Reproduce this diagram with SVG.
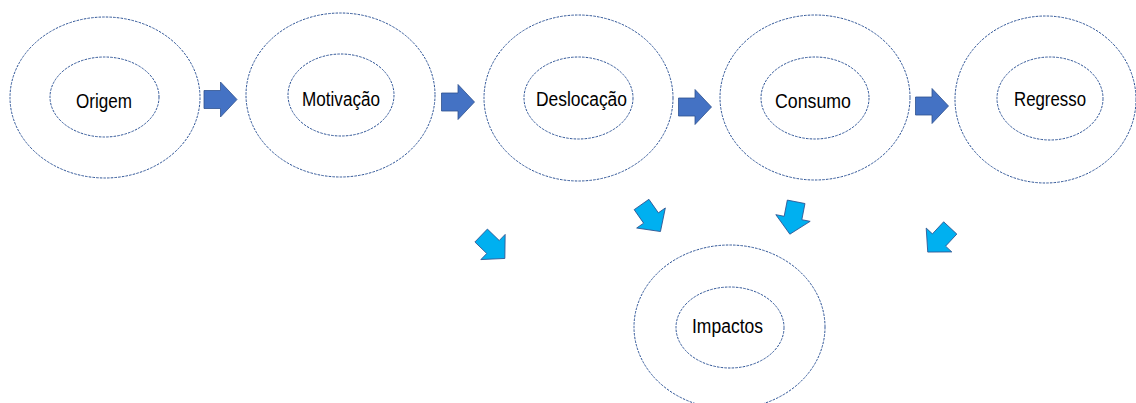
<svg xmlns="http://www.w3.org/2000/svg" width="1136" height="403" viewBox="0 0 1136 403">
<style>
.ring{fill:none;stroke:#2F5597;stroke-width:1;stroke-dasharray:2.5 1.2}
.lbl{font-family:"Liberation Sans",Arial,sans-serif;font-size:20px;fill:#000;text-anchor:middle}
.darr{fill:#4472C4;stroke:#2F528F;stroke-width:0.8}
.larr{fill:#00B0F0;stroke:#2F528F;stroke-width:0.8}
</style>
<defs>
<path id="arr" d="M-16.5,-9 L0,-9 L0,-17.5 L16.5,0 L0,17.5 L0,9 L-16.5,9 Z"/>
</defs>
<rect width="1136" height="403" fill="#fff"/>
<g id="origem">
<ellipse class="ring" cx="105" cy="97.5" rx="95" ry="80.5"/>
<ellipse class="ring" cx="104.5" cy="97" rx="54.5" ry="40"/>
<text class="lbl" x="104" y="108" textLength="56" lengthAdjust="spacingAndGlyphs">Origem</text>
</g>
<g id="motivacao">
<ellipse class="ring" cx="340.5" cy="95" rx="94.5" ry="82"/>
<ellipse class="ring" cx="341" cy="95" rx="53" ry="41"/>
<text class="lbl" x="341" y="106" textLength="78" lengthAdjust="spacingAndGlyphs">Motivação</text>
</g>
<g id="deslocacao">
<ellipse class="ring" cx="578.5" cy="98" rx="94.5" ry="83"/>
<ellipse class="ring" cx="578.5" cy="98" rx="54.5" ry="41"/>
<text class="lbl" x="581.5" y="106" textLength="91" lengthAdjust="spacingAndGlyphs">Deslocação</text>
</g>
<g id="consumo">
<ellipse class="ring" cx="815" cy="97.5" rx="95" ry="82.5"/>
<ellipse class="ring" cx="815" cy="98" rx="54" ry="41"/>
<text class="lbl" x="813" y="108" textLength="76" lengthAdjust="spacingAndGlyphs">Consumo</text>
</g>
<g id="regresso">
<ellipse class="ring" cx="1045.5" cy="99.5" rx="90.5" ry="83.5"/>
<ellipse class="ring" cx="1050" cy="98.5" rx="53" ry="41.5"/>
<text class="lbl" x="1050" y="106" textLength="72" lengthAdjust="spacingAndGlyphs">Regresso</text>
</g>
<g id="impactos">
<ellipse class="ring" cx="729.5" cy="327" rx="95.5" ry="82"/>
<ellipse class="ring" cx="730" cy="327.5" rx="54" ry="40.5"/>
<text class="lbl" x="727.5" y="333" textLength="71" lengthAdjust="spacingAndGlyphs">Impactos</text>
</g>
<g id="connectors">
<use href="#arr" class="darr" transform="translate(220.5,99.5)"/>
<use href="#arr" class="darr" transform="translate(458,102)"/>
<use href="#arr" class="darr" transform="translate(695,107)"/>
<use href="#arr" class="darr" transform="translate(932,106)"/>
<use href="#arr" class="larr" transform="translate(493,247) rotate(44)"/>
<use href="#arr" class="larr" transform="translate(651,218) rotate(55)"/>
<use href="#arr" class="larr" transform="translate(793,218) rotate(101)"/>
<use href="#arr" class="larr" transform="translate(939,240) rotate(133)"/>
</g>
</svg>
